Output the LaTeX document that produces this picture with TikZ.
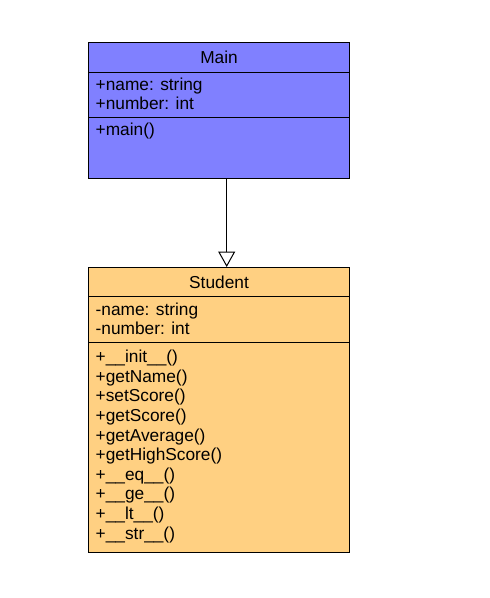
\documentclass[tikz,border=0pt]{standalone}
\usepackage{fontspec}
\setmainfont{Liberation Sans}
\usetikzlibrary{arrows.meta}
\definecolor{mainblue}{RGB}{128,128,255}
\definecolor{studorange}{RGB}{255,208,130}
\tikzset{
  comp/.style={draw=black, line width=1pt, rectangle, inner sep=0pt, minimum width=261pt, anchor=north west},
  title/.style={font=\fontsize{17.3pt}{19.6pt}\selectfont, inner sep=0pt},
  member/.style={font=\fontsize{17.3pt}{19.6pt}\selectfont, inner sep=0pt, anchor=base west},
  inherit/.style={draw=black, line width=1pt, -{Triangle[open, width=17pt, length=15.5pt, line width=1pt]}}
}
\begin{document}
\begin{tikzpicture}[x=1pt,y=1pt]
\useasboundingbox (0,0) rectangle (490,-598);
% Main class
\node[comp, fill=mainblue, minimum height=30pt] (mainHead) at (88,-42) {};
\node[comp, fill=mainblue, minimum height=45pt] (mainAttr) at (88,-72) {};
\node[comp, fill=mainblue, minimum height=61pt] (mainOps) at (88,-117) {};
\node[title] (mainTitle) at (mainHead.center) {Main};
\node[member] (ma1) at (95.5,-90) {+name: string};
\node[member] (ma2) at (95.5,-109.6) {+number: int};
\node[member] (mo1) at (95.5,-135.5) {+main()};
% Student class
\node[comp, fill=studorange, minimum height=29pt] (studHead) at (88,-267) {};
\node[comp, fill=studorange, minimum height=46pt] (studAttr) at (88,-296) {};
\node[comp, fill=studorange, minimum height=210pt] (studOps) at (88,-342) {};
\node[title] (studTitle) at (studHead.center) {Student};
\node[member] (sa1) at (95.5,-315) {-name: string};
\node[member] (sa2) at (95.5,-334.6) {-number: int};
\node[member] (so1) at (95.5,-362.7) {+\_\_init\_\_()};
\node[member] (so2) at (95.5,-382.3) {+getName()};
\node[member] (so3) at (95.5,-401.9) {+setScore()};
\node[member] (so4) at (95.5,-421.5) {+getScore()};
\node[member] (so5) at (95.5,-441.1) {+getAverage()};
\node[member] (so6) at (95.5,-460.7) {+getHighScore()};
\node[member] (so7) at (95.5,-480.3) {+\_\_eq\_\_()};
\node[member] (so8) at (95.5,-499.9) {+\_\_ge\_\_()};
\node[member] (so9) at (95.5,-519.5) {+\_\_lt\_\_()};
\node[member] (so10) at (95.5,-539.1) {+\_\_str\_\_()};
% Generalization
\coordinate (ax) at (226.7,0);
\draw[inherit] (mainOps.south -| ax) -- (studHead.north -| ax);
\end{tikzpicture}
\end{document}
